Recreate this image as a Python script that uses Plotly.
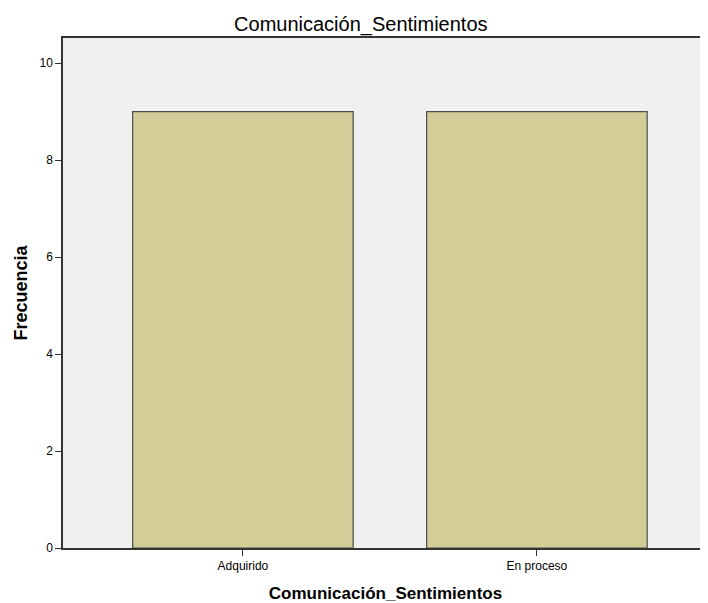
import plotly.graph_objects as go

categories = ["Adquirido", "En proceso"]
frecuencias = [9, 9]
y_ticks = [0, 2, 4, 6, 8, 10]

FONT = "Liberation Sans, Arial, sans-serif"

fig = go.Figure(
    go.Bar(
        x=categories,
        y=frecuencias,
        width=0.75,
        marker=dict(color="#D3CE98", line=dict(color="#4a4a4a", width=1.2)),
    )
)

# page body has an 8px margin, so the figure is 8px smaller than the window
fig.update_layout(
    width=700,
    height=595,
    margin=dict(l=55, r=0, t=30, b=55),
    paper_bgcolor="white",
    plot_bgcolor="#F0F0F0",
    font=dict(family=FONT, color="black", size=12),
    showlegend=False,
    title=dict(
        text="Comunicación_Sentimientos",
        x=0.504, xanchor="center",
        y=1 - 16 / 595, yref="container", yanchor="middle",
        font=dict(family=FONT, size=20, color="black"),
    ),
)

fig.update_xaxes(
    range=[-0.612, 1.582],
    showline=True, linecolor="#333333", linewidth=1.5, mirror=True,
    ticks="outside", ticklen=6, tickcolor="#333333",
    showgrid=False,
    tickfont=dict(size=12),
    title=dict(text="<b>Comunicación_Sentimientos</b>", font=dict(size=17), standoff=16),
)
fig.update_yaxes(
    range=[0, 10.52],
    tickvals=y_ticks,
    showline=True, linecolor="#333333", linewidth=1.5,
    ticks="outside", ticklen=6, tickcolor="#333333",
    showgrid=False, zeroline=False,
    tickfont=dict(size=12),
    title=dict(text="<b>Frecuencia</b>", font=dict(size=18), standoff=7),
)

fig.write_html("out.html")
